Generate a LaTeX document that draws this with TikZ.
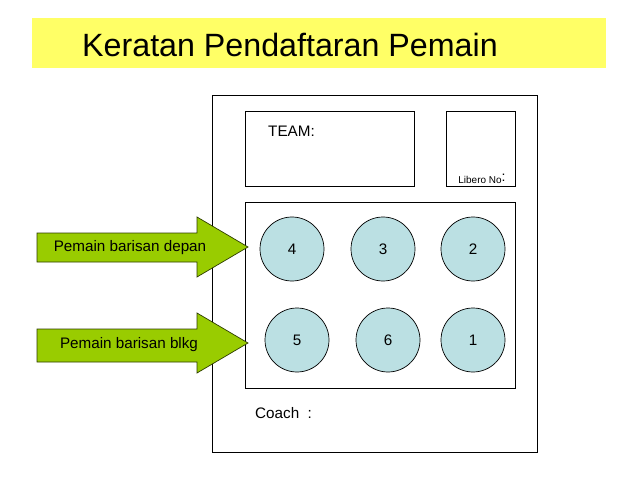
\documentclass[tikz,border=0pt]{standalone}
\usepackage{fontspec}
\setmainfont{Liberation Sans}
\definecolor{titley}{HTML}{FFFF66}
\definecolor{argreen}{HTML}{99CC00}
\definecolor{circfill}{HTML}{BBE0E3}
\begin{document}
\begin{tikzpicture}[x=0.03cm,y=-0.03cm,
  box/.style={draw=black,line width=0.6pt},
  player/.style={circle,draw=black,line width=0.6pt,fill=circfill,minimum size=64*0.03cm,inner sep=0pt,font=\fontsize{13}{15}\selectfont},
  lbl/.style={font=\fontsize{13}{15}\selectfont,inner sep=0pt},
  garrow/.style={draw=black!70!argreen,line width=0.6pt,fill=argreen}]
\useasboundingbox (0,0) rectangle (638,479);
\fill[white] (0,0) rectangle (638,479);
% title
\node[fill=titley,minimum width=574*0.03cm,minimum height=50*0.03cm,inner sep=0pt,anchor=north west] (titlebar) at (32,18) {};
\node[inner sep=0pt,font=\fontsize{27.5}{30}\selectfont] (title) at (290,45) {Keratan Pendaftaran Pemain};
% boxes
\draw[box] (212,95) rectangle (537,452);
\node[box,anchor=north west,minimum width=169*0.03cm,minimum height=75*0.03cm,inner sep=0pt] (team) at (245,111) {};
\node[lbl,anchor=west] (teamlbl) at (268,131) {TEAM:};
\node[box,anchor=north west,minimum width=69*0.03cm,minimum height=75*0.03cm,inner sep=0pt] (libero) at (446,111) {};
\node[inner sep=0pt,anchor=base] (liblbl) at (482,183) {\fontsize{8.5}{9}\selectfont Libero No\raisebox{1pt}{\fontsize{12}{12}\selectfont:}};
\node[box,anchor=north west,minimum width=270*0.03cm,minimum height=186*0.03cm,inner sep=0pt] (court) at (245,202) {};
% players
\node[player] (p4) at (292,249) {4};
\node[player] (p3) at (383,249) {3};
\node[player] (p2) at (473,249) {2};
\node[player] (p5) at (297,340) {5};
\node[player] (p6) at (388,340) {6};
\node[player] (p1) at (473,340) {1};
\node[lbl,anchor=west] (coach) at (255,413) {Coach\ \ :};
% arrows
\draw[garrow] (37,233) -- (197,233) -- (197,217) -- (248,247) -- (197,277) -- (197,262) -- (37,262) -- cycle;
\node[lbl] (front) at (130,248) {Pemain barisan depan};
\draw[garrow] (37,329) -- (197,329) -- (197,313) -- (248,343) -- (197,373) -- (197,362) -- (37,362) -- cycle;
\node[lbl] (back) at (129,345) {Pemain barisan blkg};
\end{tikzpicture}
\end{document}
